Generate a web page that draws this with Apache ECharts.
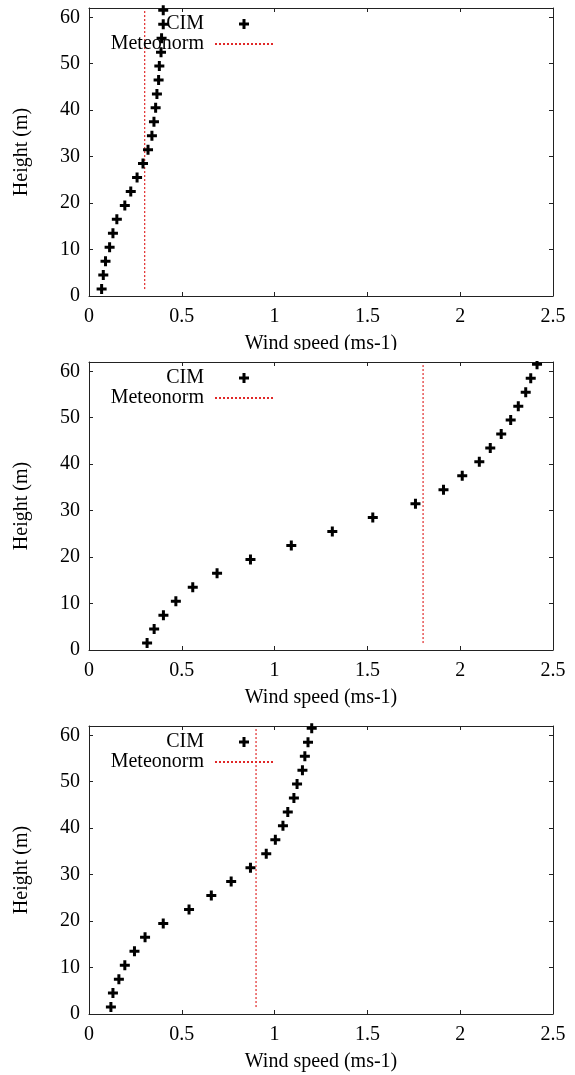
<!DOCTYPE html>
<html>
<head>
<meta charset="utf-8">
<script src="https://cdn.jsdelivr.net/npm/echarts@6/dist/echarts.min.js"></script>
<style>
html,body{margin:0;padding:0;background:#fff;}
#chart{width:575px;height:1075px;}
</style>
</head>
<body>
<div id="chart"></div>
<script>
// ---- data ----
const heights = [1.5, 4.5, 7.5, 10.5, 13.5, 16.5, 19.5, 22.5, 25.5, 28.5, 31.5, 34.5, 37.5, 40.5, 43.5, 46.5, 49.5, 52.5, 55.5, 58.5, 61.5];
const cim1 = [0.068, 0.077, 0.089, 0.111, 0.129, 0.150, 0.193, 0.225, 0.259, 0.291, 0.318, 0.339, 0.350, 0.359, 0.366, 0.375, 0.379, 0.388, 0.391, 0.400, 0.400];
const cim2 = [0.313, 0.351, 0.401, 0.468, 0.559, 0.690, 0.870, 1.090, 1.311, 1.529, 1.759, 1.910, 2.011, 2.103, 2.162, 2.221, 2.272, 2.313, 2.353, 2.380, 2.414];
const cim3 = [0.118, 0.129, 0.161, 0.193, 0.245, 0.302, 0.400, 0.539, 0.659, 0.766, 0.870, 0.955, 1.004, 1.045, 1.071, 1.104, 1.121, 1.150, 1.163, 1.180, 1.200];
const meteonorm = [0.30, 1.80, 0.90];
const xTicks = [0, 0.5, 1, 1.5, 2, 2.5];
const yTicks = [0, 10, 20, 30, 40, 50, 60];
const xName = 'Wind speed (ms-1)';
const yName = 'Height (m)';
const cimName = 'CIM';
const metName = 'Meteonorm';

// ---- layout ----
const FONT = 'Liberation Serif';
const FS = 20;
const gridTops = [8, 362, 726];
const GRID_H = 288;
const GRID_L = 89;
const GRID_R = 22;
const plusPath = 'path://M3.5,0H6.5V3.5H10V6.5H6.5V10H3.5V6.5H0V3.5H3.5Z';
const cims = [cim1, cim2, cim3];
const lineCol = '#222';
const redCol = '#e02828';

const grids = [], xAxes = [], yAxes = [], series = [], legends = [];
gridTops.forEach((t) => {
  grids.push({left: GRID_L, right: GRID_R, top: t, height: GRID_H, containLabel: false});
});
const baseAxis = {
  type: 'value',
  axisLine: {show: true, onZero: false, lineStyle: {color: lineCol, width: 1}},
  splitLine: {show: false}
};
gridTops.forEach((t, i) => {
  xAxes.push(Object.assign({}, baseAxis, {
    gridIndex: i, position: 'bottom', min: 0, max: 2.5, interval: 0.5,
    name: xName, nameLocation: 'middle', nameGap: 38,
    nameTextStyle: {fontFamily: FONT, fontSize: FS, color: '#000'},
    axisTick: {show: true, inside: true, length: 4, lineStyle: {color: lineCol}, customValues: xTicks},
    axisLabel: {show: true, margin: 11, fontFamily: FONT, fontSize: FS, color: '#000', customValues: xTicks}
  }));
  yAxes.push(Object.assign({}, baseAxis, {
    gridIndex: i, position: 'left', min: 0, max: 62, interval: 10,
    name: yName, nameLocation: 'middle', nameGap: 57,
    nameTextStyle: {fontFamily: FONT, fontSize: FS, color: '#000'},
    axisTick: {show: true, inside: true, length: 4, lineStyle: {color: lineCol}, customValues: yTicks},
    axisLabel: {show: true, margin: 9, fontFamily: FONT, fontSize: FS, color: '#000', customValues: yTicks}
  }));
});
gridTops.forEach((t, i) => {
  xAxes.push(Object.assign({}, baseAxis, {
    gridIndex: i, position: 'top', min: 0, max: 2.5, interval: 0.5,
    axisTick: {show: true, inside: true, length: 4, lineStyle: {color: lineCol}, customValues: xTicks},
    axisLabel: {show: false}
  }));
  yAxes.push(Object.assign({}, baseAxis, {
    gridIndex: i, position: 'right', min: 0, max: 62, interval: 10,
    axisTick: {show: true, inside: true, length: 4, lineStyle: {color: lineCol}, customValues: yTicks},
    axisLabel: {show: false}
  }));
});
gridTops.forEach((t, i) => {
  series.push({
    name: cimName, type: 'scatter', xAxisIndex: i, yAxisIndex: i,
    symbol: plusPath, symbolSize: 10,
    itemStyle: {color: '#000', opacity: 1},
    data: heights.map((h, k) => [cims[i][k], h]),
    z: 3
  });
  series.push({
    name: metName, type: 'line', xAxisIndex: i, yAxisIndex: i,
    symbol: 'none', showSymbol: false,
    lineStyle: {color: redCol, width: 1.2, type: [2, 2]},
    itemStyle: {color: redCol},
    data: [[meteonorm[i], heights[0]], [meteonorm[i], heights[heights.length - 1]]],
    z: 3
  });
  legends.push({
    orient: 'vertical', align: 'right', selectedMode: false,
    right: 301, top: t + 6, padding: 0, itemGap: 0,
    itemWidth: 58, itemHeight: 10,
    textStyle: {fontFamily: FONT, fontSize: FS, color: '#000', padding: [0, 6, 0, 0]},
    data: [
      {name: cimName, itemStyle: {color: '#000', opacity: 1}},
      {name: metName, itemStyle: {color: 'rgba(0,0,0,0)', borderColor: 'rgba(0,0,0,0)', borderWidth: 0}}
    ]
  });
});

const chart = echarts.init(document.getElementById('chart'), null, {renderer: 'canvas'});
chart.setOption({
  backgroundColor: '#fff',
  animation: false,
  textStyle: {fontFamily: FONT},
  grid: grids,
  xAxis: xAxes,
  yAxis: yAxes,
  legend: legends,
  series: series,
  graphic: [{
    type: 'rect', z: 100,
    shape: {x: 0, y: 350, width: 575, height: 11},
    style: {fill: '#fff'}
  }]
});
</script>
</body>
</html>
